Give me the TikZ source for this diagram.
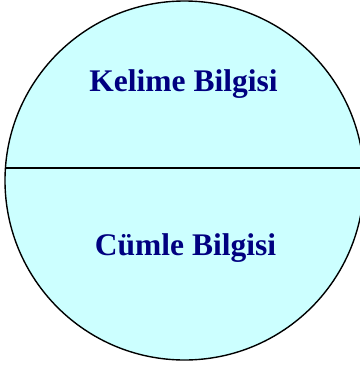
\documentclass[tikz,border=0pt]{standalone}
\usepackage{fontspec}
\setmainfont{Liberation Serif}
\usepackage{xcolor}
\usetikzlibrary{positioning}
\definecolor{cFill}{RGB}{204,255,255}
\definecolor{cNavy}{RGB}{0,0,128}
\tikzset{
	disc/.style   ={circle, draw=black, line width=1.4pt, fill=cFill, minimum size=359bp, inner sep=0pt},
	divider/.style={line width=1.4pt, draw=black},
	label/.style  ={text=cNavy, font=\bfseries\fontsize{31.6}{38}\selectfont, inner sep=0pt, anchor=base}
}
\begin{document}
\begin{tikzpicture}[x=1bp, y=-1bp]
	\useasboundingbox (0,0) rectangle (360,365);
	\clip (0,0) rectangle (360,365);
	\node[disc] (c) at (184.5,180.5) {};
	% dividing chord
	\coordinate (l) at (5.4,168);
	\coordinate (r) at (363.6,168);
	\draw[divider] (l) -- (r);
	\node[label] (top) at (183.5,91) {Kelime Bilgisi};
	\node[label] (bot) at (185.5,255) {Cümle Bilgisi};
\end{tikzpicture}
\end{document}
